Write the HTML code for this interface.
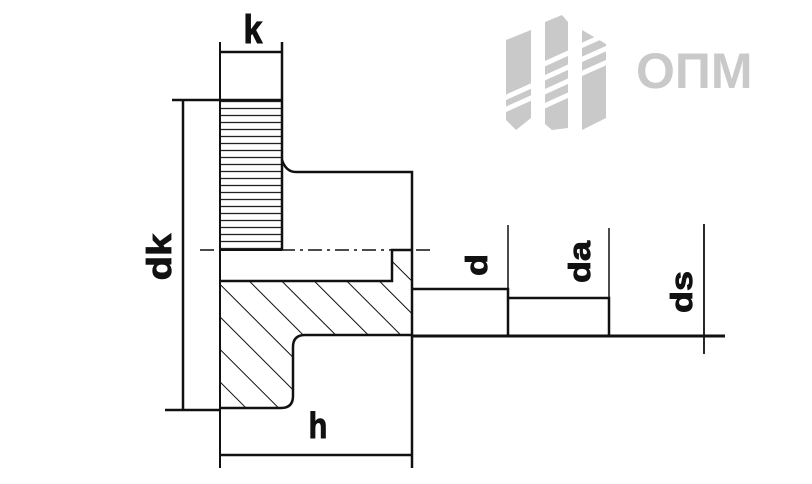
<!DOCTYPE html>
<html><head><style>html,body{margin:0;padding:0;background:#fff}svg{display:block}</style></head>
<body>
<svg width="812" height="484" viewBox="0 0 812 484" xmlns="http://www.w3.org/2000/svg">
<defs>
<pattern id="h" patternUnits="userSpaceOnUse" width="23" height="23" patternTransform="rotate(-45)">
<line x1="0" y1="0" x2="0" y2="23" stroke="#111" stroke-width="2"/>
</pattern>
<pattern id="kn" patternUnits="userSpaceOnUse" width="10" height="7">
<line x1="0" y1="3.5" x2="10" y2="3.5" stroke="#222" stroke-width="1.3"/>
</pattern>
</defs>
<!-- logo -->
<g fill="#c9c9c9">
<polygon points="506,40 531,30 531,118 516,130 506,120"/>
<polygon points="545,22 562,15 568,22 568,128 552,130 545,124"/>
<polygon points="582,30 606,44 606,118 582,130"/>
</g>
<g stroke="#fff" stroke-width="5">
<line x1="500" y1="100" x2="540" y2="82"/><line x1="500" y1="112" x2="540" y2="94"/>
<line x1="540" y1="66" x2="575" y2="50"/><line x1="540" y1="80" x2="575" y2="64"/><line x1="540" y1="94" x2="575" y2="78"/><line x1="540" y1="108" x2="575" y2="92"/>
<line x1="576" y1="48" x2="612" y2="32"/><line x1="576" y1="62" x2="612" y2="46"/><line x1="576" y1="76" x2="612" y2="60"/>
</g>
<text x="636" y="88" font-family="Liberation Sans, sans-serif" font-weight="bold" font-size="50" fill="#c9c9c9">ОПМ</text>

<!-- knurl -->
<rect x="220" y="100" width="62" height="150" fill="url(#kn)"/>
<g stroke="#111" fill="none" stroke-width="2">
<line x1="220" y1="42" x2="220" y2="468"/>
<line x1="282" y1="42" x2="282" y2="250" stroke-width="2.5"/>
<line x1="221" y1="52" x2="282" y2="52" stroke-width="2.5"/>
<line x1="172" y1="100" x2="282" y2="100" stroke-width="2.5"/>
<line x1="165" y1="410" x2="220" y2="410" stroke-width="2.5"/>
<line x1="183" y1="100" x2="183" y2="410" stroke-width="2.5"/>
<path d="M282 160 Q286 172 296 172 L412 172 L412 468" stroke-width="2.5"/>
<line x1="220" y1="250" x2="282" y2="250"/>
<line x1="200" y1="250" x2="432" y2="250" stroke-width="1.5" stroke-dasharray="14,5,3,5"/>
</g>
<!-- hatched body -->
<path d="M220 281 L392 281 L392 250 L412 250 L412 335 L305 335 Q293 335 293 347 L293 396 Q293 408 281 408 L220 408 Z" fill="url(#h)"/>
<g stroke="#111" fill="none" stroke-width="2.5">
<path d="M220 281 L392 281 L392 250 L412 250"/>
<path d="M412 335 L305 335 Q293 335 293 347 L293 396 Q293 408 281 408 L220 408"/>
<path d="M412 289 L508 289 L508 335"/>
<path d="M508 298 L609 298 L609 335"/>
<line x1="412" y1="336" x2="725" y2="336" stroke-width="3"/>
<line x1="508" y1="225" x2="508" y2="335" stroke-width="1.5"/>
<line x1="609" y1="228" x2="609" y2="335" stroke-width="1.5"/>
<line x1="704" y1="224" x2="704" y2="354" stroke-width="1.8"/>
<line x1="220" y1="455" x2="412" y2="455"/>
</g>
<g font-family="Liberation Sans, sans-serif" font-weight="bold" fill="#111" stroke="#111" stroke-width="1">
<text transform="translate(253,43) scale(0.85,1)" font-size="40" text-anchor="middle">k</text>
<text transform="translate(318,438) scale(0.85,1)" font-size="36" text-anchor="middle">h</text>
<text transform="translate(171,257) rotate(-90) scale(1,0.85)" font-size="40" text-anchor="middle">dk</text>
<text transform="translate(487,265) rotate(-90) scale(1,0.85)" font-size="36" text-anchor="middle">d</text>
<text transform="translate(590,262) rotate(-90) scale(1,0.85)" font-size="36" text-anchor="middle">da</text>
<text transform="translate(692,292) rotate(-90) scale(1,0.85)" font-size="36" text-anchor="middle">ds</text>
</g>
</svg>
</body></html>
